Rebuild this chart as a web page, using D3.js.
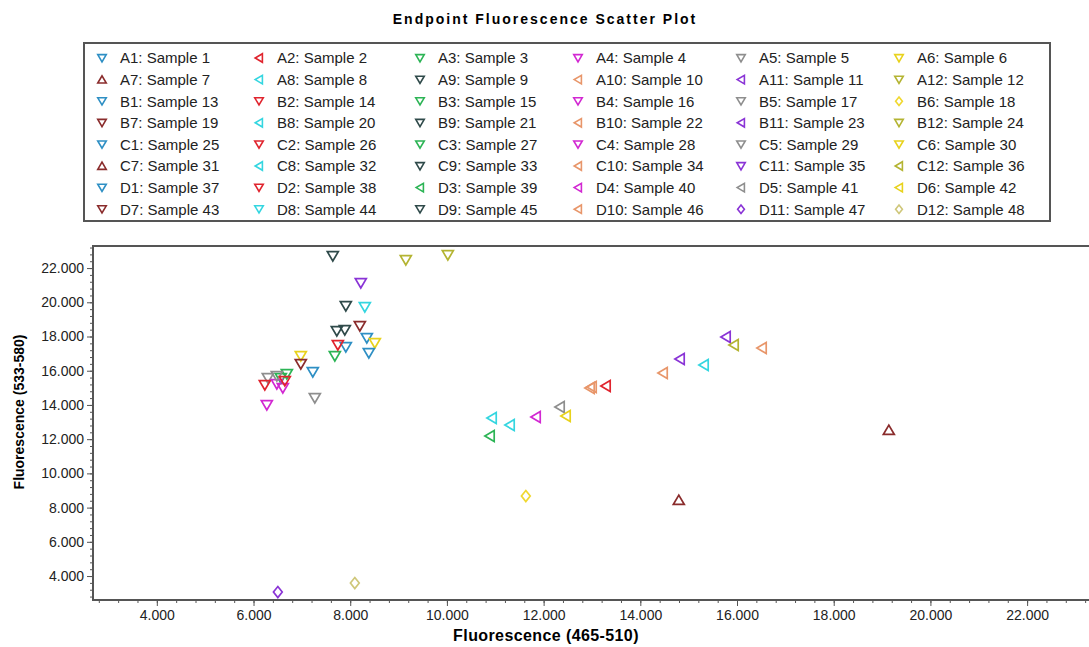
<!DOCTYPE html>
<html>
<head>
<meta charset="utf-8">
<script src="https://cdn.jsdelivr.net/npm/d3@7"></script>
<style>
  body { margin: 0; background: #fff; }
  svg { display: block; font-family: "Liberation Sans", Arial, sans-serif; }
</style>
</head>
<body>
<svg width="1089" height="647"></svg>
<script>
const wells = [
  "A1", "A2", "A3", "A4", "A5", "A6", "A7", "A8", "A9", "A10", "A11", "A12",
  "B1", "B2", "B3", "B4", "B5", "B6", "B7", "B8", "B9", "B10", "B11", "B12",
  "C1", "C2", "C3", "C4", "C5", "C6", "C7", "C8", "C9", "C10", "C11", "C12",
  "D1", "D2", "D3", "D4", "D5", "D6", "D7", "D8", "D9", "D10", "D11", "D12",
];

const shapes = [
  "down", "left", "down", "down", "down", "down", "up", "left", "down", "left", "left", "down",
  "down", "down", "down", "down", "down", "diamond", "down", "left", "down", "left", "left", "down",
  "down", "down", "down", "down", "down", "down", "up", "left", "down", "left", "down", "left",
  "down", "down", "left", "left", "left", "left", "down", "down", "down", "left", "diamond", "diamond",
];

// one colour per plate column 1..12
const columnColors = [
  "#2e8fc4", "#e0242e", "#2cb455", "#d228d2", "#8e8e8e", "#e8d21c",
  "#8a2c2c", "#34d6e0", "#2f4a4a", "#e8966a", "#8a34d6", "#b4b432",
];

const fluor465 = [
  8343, 13286, 7682, 6606, 7268, 8509, 19140, 10929, 7640, 12955, 14817, 9150,
  7909, 7744, 6689, 6275, 6296, 11632, 8199, 11301, 7909, 12997, 15768, 10019,
  8385, 6234, 6565, 6482, 6482, 6978, 14796, 15313, 7723, 14466, 8219, 15934,
  7226, 6647, 10887, 11839, 12335, 12459, 6978, 8302, 7888, 16513, 6503, 8095,
];

const fluor533 = [
  17910, 15105, 16858, 14988, 14403, 17618, 12533, 13234, 22703, 14988, 16683, 22469,
  17384, 17500, 15806, 13994, 15572, 8676, 18611, 12825, 19781, 15046, 17968, 22761,
  17033, 15163, 15570, 15220, 15689, 16858, 8442, 16332, 18319, 15865, 21125, 17501,
  15923, 15400, 12182, 13293, 13877, 13351, 16390, 19722, 18378, 17326, 3065, 3591,
];

const xTicks = [4000, 6000, 8000, 10000, 12000, 14000, 16000, 18000, 20000, 22000];
const yTicks = [4000, 6000, 8000, 10000, 12000, 14000, 16000, 18000, 20000, 22000];

const samples = wells.map((w, i) => ({
  well: w,
  label: `${w}: Sample ${i + 1}`,
  shape: shapes[i],
  color: columnColors[+w.slice(1) - 1],
  x: fluor465[i],
  y: fluor533[i],
}));
samples[17].color = "#f0d830";
samples[47].color = "#cfc77a";

function symbolPath(shape, s) {
  const h = s * 0.5;
  if (shape === "down") return `M${-h},${-h * 0.8}L${h},${-h * 0.8}L0,${h * 0.9}Z`;
  if (shape === "up") return `M${-h},${h * 0.8}L${h},${h * 0.8}L0,${-h * 0.9}Z`;
  if (shape === "left") return `M${h * 0.8},${-h}L${h * 0.8},${h}L${-h * 0.9},0Z`;
  return `M0,${-h}L${h * 0.8},0L0,${h}L${-h * 0.8},0Z`;
}

const fmt = (d) => d3.format(",")(d).replace(",", ".");

const svg = d3.select("svg");

svg.append("text")
  .attr("x", 545)
  .attr("y", 24)
  .attr("text-anchor", "middle")
  .style("font-size", "14px")
  .style("font-weight", "900")
  .style("letter-spacing", "2px")
  .text("Endpoint Fluorescence Scatter Plot");

// legend
const legend = svg.append("g");
legend.append("rect")
  .attr("x", 84)
  .attr("y", 43)
  .attr("width", 966)
  .attr("height", 178)
  .attr("fill", "#fff")
  .attr("stroke", "#555")
  .attr("stroke-width", 2);

const colX = [102, 259, 420, 578, 741, 899];
legend.selectAll(".item")
  .data(samples)
  .join("g")
  .attr("class", "item")
  .attr("transform", (d, i) => `translate(${colX[i % 6]},${58 + Math.floor(i / 6) * 21.6})`)
  .each(function (d) {
    const g = d3.select(this);
    g.append("path")
      .attr("d", symbolPath(d.shape, 8.5))
      .attr("fill", "none")
      .attr("stroke", d.color)
      .attr("stroke-width", 1.6);
    g.append("text")
      .attr("x", 18)
      .attr("dy", "0.36em")
      .style("font-size", "15px")
      .attr("fill", "#222")
      .text(d.label);
  });

// plot
const x = d3.scaleLinear().domain([2680, 23280]).range([93, 1089]);
const y = d3.scaleLinear().domain([2600, 23290]).range([600, 246]);

const xMinor = d3.range(2800, 23280, 400);
const yMinor = d3.range(2800, 23290, 400);

const xAxis = svg.append("g").attr("transform", "translate(0,600)");
xAxis.call(d3.axisBottom(x).tickValues(xMinor).tickSize(3).tickFormat(""));
xAxis.append("g").call(d3.axisBottom(x).tickValues(xTicks).tickSize(6).tickFormat(fmt));

const yAxis = svg.append("g").attr("transform", "translate(93,0)");
yAxis.call(d3.axisLeft(y).tickValues(yMinor).tickSize(3).tickFormat(""));
yAxis.append("g").call(d3.axisLeft(y).tickValues(yTicks).tickSize(6).tickFormat(fmt));

svg.selectAll(".domain").remove();
svg.selectAll(".tick line").attr("stroke", "#555");
svg.selectAll(".tick text")
  .attr("fill", "#222")
  .style("font-size", "14px")
  .style("font-family", "'Liberation Sans', Arial, sans-serif");
xAxis.selectAll(".tick text").attr("dy", "0.75em");

svg.append("path")
  .attr("d", `M${x.range()[1]},246H93V600H${x.range()[1]}`)
  .attr("fill", "none")
  .attr("stroke", "#555")
  .attr("stroke-width", 2);

svg.append("g")
  .selectAll("path")
  .data(samples)
  .join("path")
  .attr("transform", (d) => `translate(${x(d.x)},${y(d.y)})`)
  .attr("d", (d) => symbolPath(d.shape, 11))
  .attr("fill", "none")
  .attr("stroke", (d) => d.color)
  .attr("stroke-width", 1.7);

svg.append("text")
  .attr("x", 546)
  .attr("y", 641)
  .attr("text-anchor", "middle")
  .style("font-size", "16px")
  .style("font-weight", "bold")
  .style("letter-spacing", "0.4px")
  .text("Fluorescence (465-510)");

svg.append("text")
  .attr("transform", "translate(24,412) rotate(-90)")
  .attr("text-anchor", "middle")
  .style("font-size", "14px")
  .style("font-weight", "bold")
  .text("Fluorescence (533-580)");
</script>
</body>
</html>
